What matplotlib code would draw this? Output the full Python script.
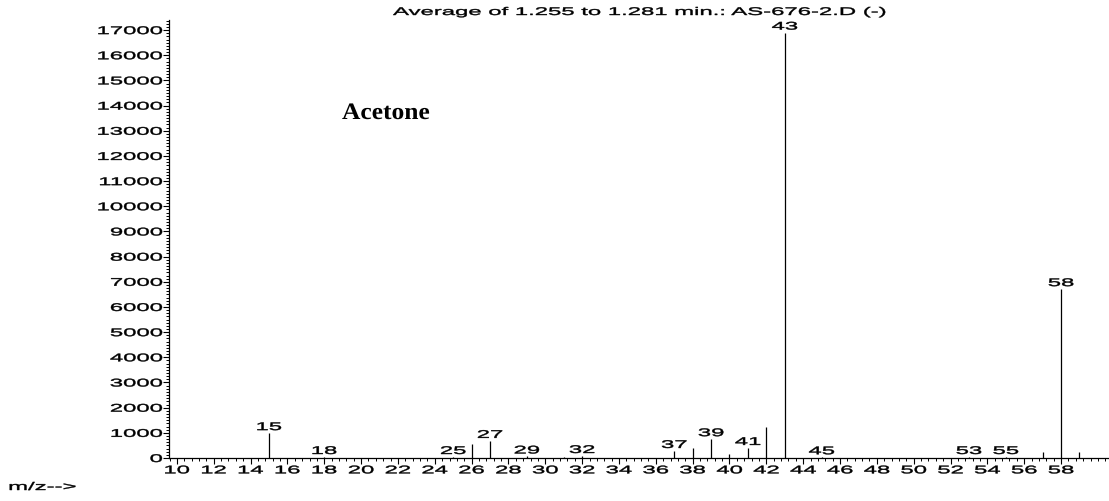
import matplotlib
matplotlib.use("Agg")
import matplotlib.pyplot as plt
from matplotlib.patheffects import AbstractPathEffect
from matplotlib.ticker import FixedLocator, MultipleLocator
from matplotlib.transforms import Affine2D

# averaged mass spectrum, 1.255-1.281 min
mz = [15, 18, 25, 26, 27, 29, 31, 32, 37, 38, 39, 40, 41, 42, 43, 45, 53, 55, 57, 58, 59]
abundance = [990, 40, 40, 560, 680, 60, 40, 80, 280, 400, 750, 160, 400, 1230,
             16900, 30, 40, 40, 240, 6710, 240]
labeled = [15, 18, 25, 27, 29, 32, 37, 39, 41, 43, 45, 53, 55, 58]

x_ticks = list(range(10, 60, 2))
y_ticks = list(range(0, 17001, 1000))

title = "Average of 1.255 to 1.281 min.: AS-676-2.D (-)"
compound = "Acetone"
x_label = "m/z-->"

SANS = "Liberation Sans"
SERIF = "Liberation Serif"
WIDE = 2.15


class Stretch(AbstractPathEffect):
    """Widen glyphs horizontally about a fixed anchor, with a light outline."""

    def __init__(self, sx, anchor="center", stroke=0.3):
        super().__init__()
        self.sx = sx
        self.anchor = anchor
        self.stroke = stroke

    def draw_path(self, renderer, gc, tpath, affine, rgbFace=None):
        ext = tpath.get_extents()
        x0 = {"left": ext.x0, "center": 0.5 * (ext.x0 + ext.x1), "right": ext.x1}[self.anchor]
        st = Affine2D().translate(-x0, 0).scale(self.sx, 1).translate(x0, 0)
        gc0 = renderer.new_gc()
        gc0.copy_properties(gc)
        gc0.set_linewidth(self.stroke)
        if rgbFace is not None:
            gc0.set_foreground(rgbFace)
        renderer.draw_path(gc0, tpath, st + affine, rgbFace)
        gc0.restore()


W, H = 1109, 501
fig = plt.figure(figsize=(W / 100, H / 100), dpi=100)
ax = fig.add_axes([169 / W, 43 / H, 939 / W, 438 / H])

ax.vlines(mz, 0, abundance, colors="black", linewidth=0.9)

for m, a in zip(mz, abundance):
    if m in labeled:
        ax.annotate(str(m), (m, a), xytext=(0, 3), textcoords="offset pixels",
                    ha="center", va="baseline", fontsize=8, family=SANS,
                    path_effects=[Stretch(WIDE)])

ax.set_xlim(9.57, 60.55)
ax.set_ylim(0, 17400)

ax.xaxis.set_major_locator(FixedLocator(x_ticks))
ax.xaxis.set_minor_locator(MultipleLocator(0.4))
ax.yaxis.set_major_locator(FixedLocator(y_ticks))
ax.yaxis.set_minor_locator(MultipleLocator(125))

for side in ("top", "right"):
    ax.spines[side].set_visible(False)
for side in ("left", "bottom"):
    ax.spines[side].set_linewidth(0.9)

ax.tick_params(which="major", length=4.3, width=0.8, pad=1, labelsize=8)
ax.tick_params(which="minor", length=2.0, width=0.7)
ax.tick_params(axis="y", which="major", pad=0.5)

fig.text(640 / W, 1 - 15 / H, title, ha="center", va="baseline", fontsize=8,
         family=SANS, path_effects=[Stretch(WIDE)])
fig.text(342 / W, 1 - 119 / H, compound, ha="left", va="baseline", fontsize=17,
         family=SERIF, fontweight="bold", path_effects=[Stretch(1.08, "left", 0)])
fig.text(9 / W, 1 - 490 / H, x_label, ha="left", va="baseline", fontsize=8,
         family=SANS, path_effects=[Stretch(WIDE, "left")])

fig.canvas.draw()
for lab in ax.get_xticklabels():
    lab.set_fontfamily(SANS)
    lab.set_path_effects([Stretch(WIDE)])
for lab in ax.get_yticklabels():
    lab.set_fontfamily(SANS)
    lab.set_path_effects([Stretch(WIDE, "right")])

fig.savefig("out.png", dpi=100)
